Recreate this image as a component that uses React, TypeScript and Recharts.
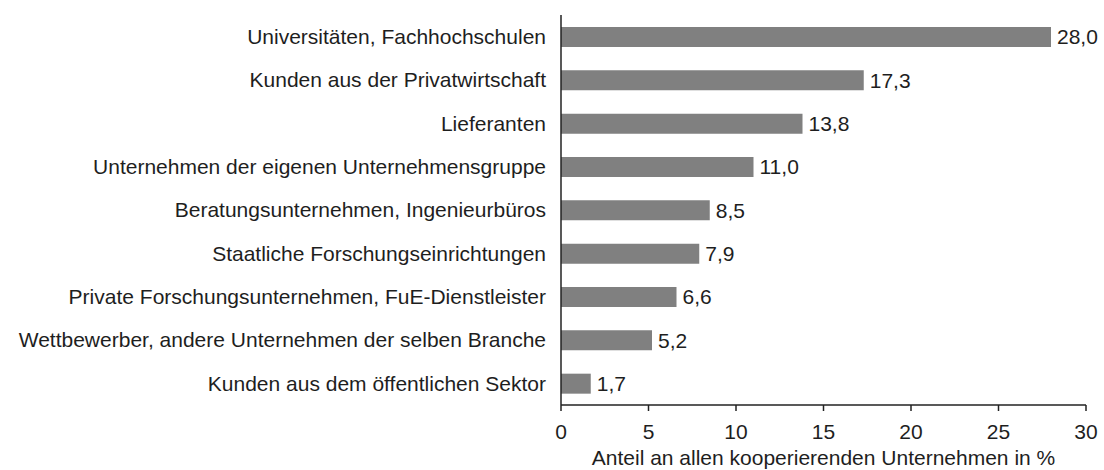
import React from 'react';
import { BarChart, Bar, XAxis, YAxis, LabelList } from 'recharts';

const categories = [
  'Universitäten, Fachhochschulen',
  'Kunden aus der Privatwirtschaft',
  'Lieferanten',
  'Unternehmen der eigenen Unternehmensgruppe',
  'Beratungsunternehmen, Ingenieurbüros',
  'Staatliche Forschungseinrichtungen',
  'Private Forschungsunternehmen, FuE-Dienstleister',
  'Wettbewerber, andere Unternehmen der selben Branche',
  'Kunden aus dem öffentlichen Sektor',
];
const values = [28.0, 17.3, 13.8, 11.0, 8.5, 7.9, 6.6, 5.2, 1.7];
const xTicks = [0, 5, 10, 15, 20, 25, 30];
const axisTitle = 'Anteil an allen kooperierenden Unternehmen in %';

const data = categories.map((name, i) => ({ name, value: values[i] }));

const FONT = '"Liberation Sans", Arial, sans-serif';
const TEXT = '#1e1e1e';

export default function App() {
  return (
    <div style={{ position: 'absolute', left: 0, top: 0, width: 1104, height: 470, background: '#fff' }}>
      <BarChart
        width={1104}
        height={470}
        data={data}
        layout="vertical"
        margin={{ top: 15, right: 18, bottom: 5, left: 0 }}
        barCategoryGap={0}
      >
        <XAxis
          type="number"
          domain={[0, 30]}
          ticks={xTicks}
          height={60}
          tickSize={6}
          tickMargin={13}
          stroke="#222"
          axisLine={{ stroke: '#222', strokeWidth: 1.5 }}
          tickLine={{ stroke: '#222', strokeWidth: 1.5 }}
          tick={{ fill: TEXT, fontSize: 21, fontFamily: FONT }}
          label={{ value: axisTitle, position: 'insideBottom', offset: 0, fill: TEXT, fontSize: 21, fontFamily: FONT }}
        />
        <YAxis
          type="category"
          dataKey="name"
          width={561}
          tickLine={false}
          tickSize={0}
          tickMargin={15}
          interval={0}
          axisLine={{ stroke: '#222', strokeWidth: 1.5 }}
          tick={{ fill: TEXT, fontSize: 21, fontFamily: FONT }}
        />
        <Bar dataKey="value" fill="#808080" barSize={20} isAnimationActive={false}>
          <LabelList
            dataKey="value"
            position="right"
            offset={6}
            formatter={(v: number) => v.toFixed(1).replace('.', ',')}
            style={{ fill: TEXT, fontSize: 21, fontFamily: FONT }}
          />
        </Bar>
      </BarChart>
    </div>
  );
}
